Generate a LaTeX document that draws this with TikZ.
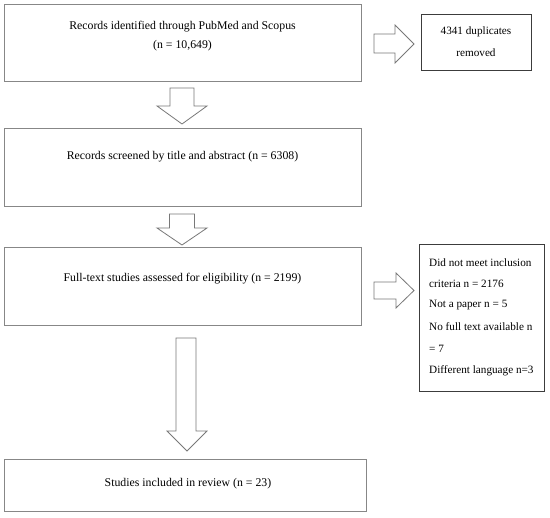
\documentclass[tikz,border=0pt]{standalone}
\usepackage{fontspec}
\setmainfont{Liberation Serif}
\definecolor{boxgray}{RGB}{135,135,135}
\definecolor{darkbox}{RGB}{60,60,60}
\definecolor{arrgray}{RGB}{120,120,120}
\begin{document}
\begin{tikzpicture}[x=1pt,y=-1pt,
  box/.style={draw=boxgray, line width=1pt, rectangle, inner sep=0pt},
  sidebox/.style={draw=darkbox, line width=1pt, rectangle, inner sep=0pt},
  txt/.style={inner sep=0pt, font=\fontsize{11.8}{14}\selectfont, text=black},
  stxt/.style={inner sep=0pt, font=\fontsize{11.2}{13}\selectfont, text=black},
  barrow/.style={draw=arrgray, line width=0.8pt, fill=white, line join=miter}]
\useasboundingbox[fill=white] (0,0) rectangle (550,518);
% main boxes
\node[box, minimum width=357pt, minimum height=77pt] (b1) at (182.5,43.5) {};
\node[box, minimum width=357pt, minimum height=78pt] (b2) at (182.5,168) {};
\node[box, minimum width=357pt, minimum height=78pt] (b3) at (182.5,287) {};
\node[box, minimum width=362pt, minimum height=52pt] (b4) at (185,486) {};
% side boxes
\node[sidebox, minimum width=110pt, minimum height=56pt] (s1) at (476,43) {};
\node[sidebox, minimum width=125pt, minimum height=147pt] (s2) at (481.5,318.5) {};
% texts
\node[txt] (t1a) at (182.5,27) {Records identified through PubMed and Scopus};
\node[txt] (t1b) at (182.5,46) {(n = 10,649)};
\node[txt] (t2) at (182.5,157) {Records screened by title and abstract (n = 6308)};
\node[txt] (t3) at (182.5,279) {Full-text studies assessed for eligibility (n = 2199)};
\node[txt] (t4) at (188,484) {Studies included in review (n = 23)};
\node[stxt] (d1) at (476,32) {4341 duplicates};
\node[stxt] (d2) at (476,53) {removed};
\node[stxt, anchor=west] (e1) at (429,263) {Did not meet inclusion};
\node[stxt, anchor=west] (e2) at (429,284) {criteria n = 2176};
\node[stxt, anchor=west] (e3) at (429,305) {Not a paper n = 5};
\node[stxt, anchor=west] (e4) at (429,327) {No full text available n};
\node[stxt, anchor=west] (e5) at (429,349) {= 7};
\node[stxt, anchor=west] (e6) at (429,371) {Different language n=3};
% block arrows
\draw[barrow] (374,34) -- (395,34) -- (395,25) -- (414,44) -- (395,63) -- (395,53) -- (374,53) -- cycle;
\draw[barrow] (170,88) -- (194,88) -- (194,106) -- (207,106) -- (182,124) -- (157,106) -- (170,106) -- cycle;
\draw[barrow] (169.5,214) -- (194.5,214) -- (194.5,228) -- (207,228) -- (182,245) -- (157,228) -- (169.5,228) -- cycle;
\draw[barrow] (374,282) -- (396,282) -- (396,273) -- (414,290.5) -- (396,308) -- (396,299) -- (374,299) -- cycle;
\draw[barrow] (176,338) -- (196,338) -- (196,431) -- (207,431) -- (187,451) -- (167,431) -- (176,431) -- cycle;
\end{tikzpicture}
\end{document}
